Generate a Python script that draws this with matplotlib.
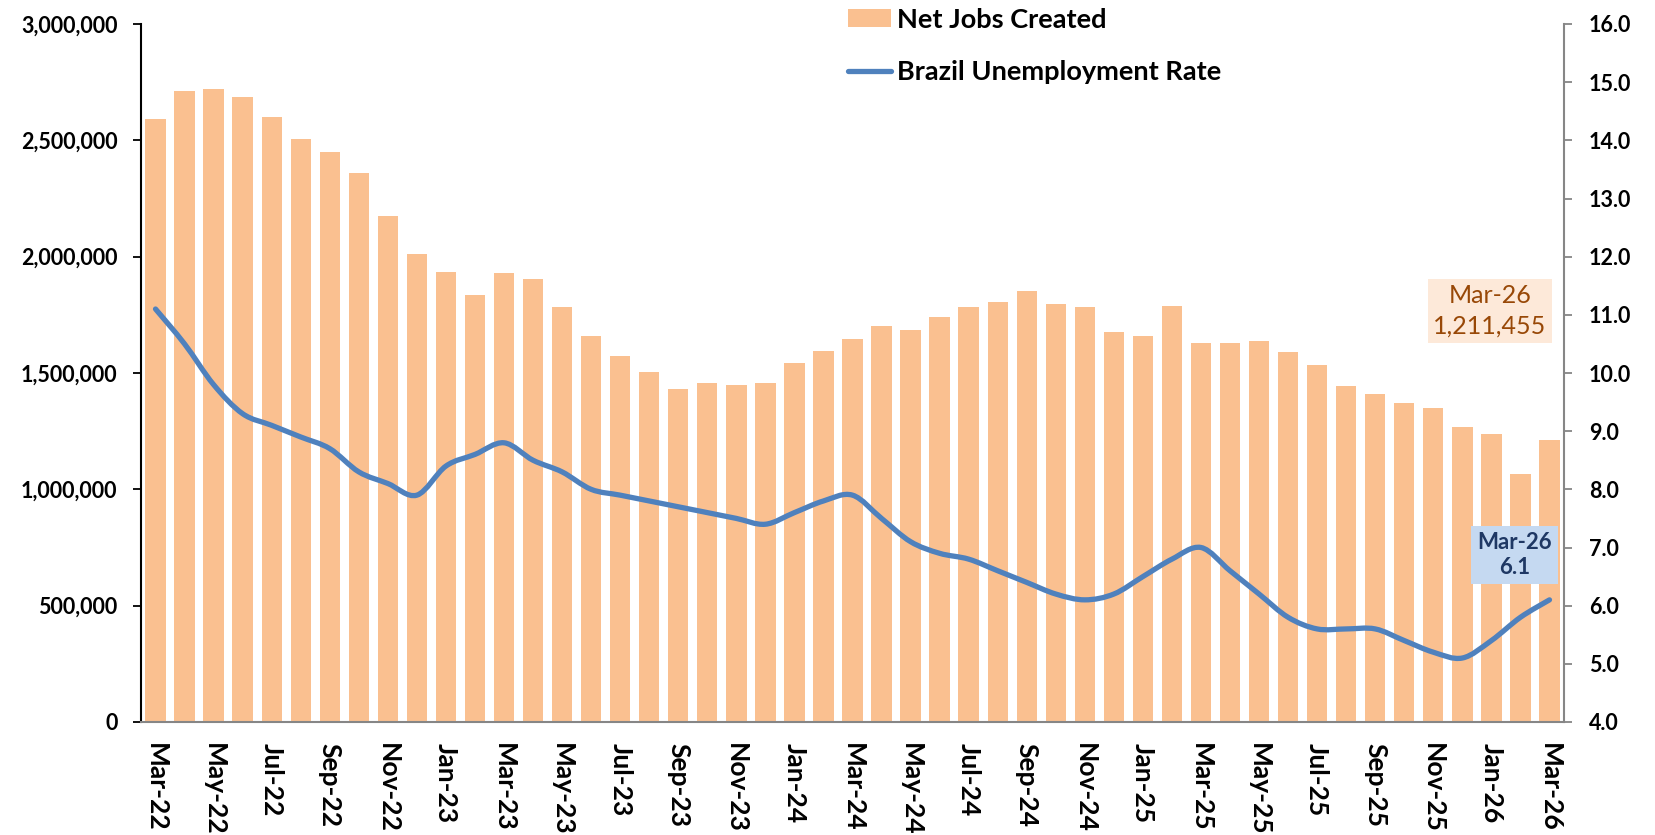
import matplotlib
matplotlib.use("Agg")
import matplotlib.pyplot as plt
import numpy as np
import pandas as pd
from matplotlib.path import Path
from matplotlib.patches import PathPatch, Patch
from matplotlib.lines import Line2D
from matplotlib.ticker import FuncFormatter

# ---------------- data ----------------
months = list(pd.date_range("2022-03-01", "2026-03-01", freq="MS").strftime("%b-%y"))

net_jobs = [2592000, 2710000, 2719000, 2687000, 2601000, 2506000, 2452000, 2361000,
            2175000, 2012000, 1935000, 1835000, 1930000, 1903000, 1785000, 1659000,
            1572000, 1505000, 1432000, 1459000, 1450000, 1455000, 1541000, 1595000,
            1645000, 1704000, 1686000, 1740000, 1785000, 1804000, 1853000, 1795000,
            1785000, 1677000, 1659000, 1790000, 1631000, 1627000, 1636000, 1591000,
            1536000, 1446000, 1409000, 1373000, 1350000, 1269000, 1237000, 1065000,
            1211455]

unemployment = [11.1, 10.5, 9.8, 9.3, 9.1, 8.9, 8.7, 8.3, 8.1, 7.9,
                8.4, 8.6, 8.8, 8.5, 8.3, 8.0, 7.9, 7.8, 7.7, 7.6, 7.5, 7.4,
                7.6, 7.8, 7.9, 7.5, 7.1, 6.9, 6.8, 6.6, 6.4, 6.2, 6.1, 6.2,
                6.5, 6.8, 7.0, 6.6, 6.2, 5.8, 5.6, 5.6, 5.6, 5.4, 5.2, 5.1,
                5.4, 5.8, 6.1]

left_ticks = [0, 500000, 1000000, 1500000, 2000000, 2500000, 3000000]
right_ticks = [4.0, 5.0, 6.0, 7.0, 8.0, 9.0, 10.0, 11.0, 12.0, 13.0, 14.0, 15.0, 16.0]

# ---------------- style ----------------
FONT = "Lato"
plt.rcParams["font.family"] = [FONT, "DejaVu Sans"]
BAR_C = "#FAC090"
LINE_C = "#4F81BD"
GRAY = "#868686"

fig = plt.figure(figsize=(16.55, 8.35), dpi=100)
ax = fig.add_axes([141 / 1655, 1 - 722 / 835, (1564 - 141) / 1655, (722 - 24) / 835])
ax2 = ax.twinx()

x = np.arange(len(months))
ax.bar(x, net_jobs, width=0.7, color=BAR_C, zorder=2)
ax.set_xlim(-0.5, len(months) - 0.5)
ax.set_ylim(0, 3000000)
ax.set_yticks(left_ticks)
ax.yaxis.set_major_formatter(FuncFormatter(lambda v, p: f"{int(v):,}"))

# smoothed line (Excel-style Bezier through the data points)
def smooth_path(xs, ys):
    n = len(xs)
    verts = [(xs[0], ys[0])]
    codes = [Path.MOVETO]
    for i in range(n - 1):
        a = i - 1 if i > 0 else i
        d = i + 2 if i + 2 < n else i + 1
        c1 = (xs[i] + (xs[i + 1] - xs[a]) / 6.0, ys[i] + (ys[i + 1] - ys[a]) / 6.0)
        c2 = (xs[i + 1] - (xs[d] - xs[i]) / 6.0, ys[i + 1] - (ys[d] - ys[i]) / 6.0)
        verts += [c1, c2, (xs[i + 1], ys[i + 1])]
        codes += [Path.CURVE4] * 3
    return Path(verts, codes)

patch = PathPatch(smooth_path(x.astype(float), unemployment), fill=False,
                  edgecolor=LINE_C, lw=3.8, capstyle="round", joinstyle="round", zorder=3)
ax2.add_patch(patch)
ax2.set_ylim(4, 16)
ax2.set_yticks(right_ticks)
ax2.yaxis.set_major_formatter(FuncFormatter(lambda v, p: f"{v:.1f}"))

# spines / ticks
for a in (ax, ax2):
    a.spines["top"].set_visible(False)
ax.spines["right"].set_visible(False)
ax.spines["left"].set_color("black")
ax.spines["left"].set_linewidth(1.5)
ax.spines["bottom"].set_color(GRAY)
ax.spines["bottom"].set_linewidth(1.5)
ax2.spines["left"].set_visible(False)
ax2.spines["bottom"].set_visible(False)
ax2.spines["right"].set_color(GRAY)
ax2.spines["right"].set_linewidth(1.5)

ax.tick_params(axis="y", length=6, width=1.3, color="black", pad=11, labelsize=15.5)
ax2.tick_params(axis="y", length=6, width=1.3, color=GRAY, pad=12, labelsize=15.5)
ax.set_xticks(x[::2])
ax.set_xticklabels(months[::2], rotation=270, fontsize=19, fontweight="bold")
ax.tick_params(axis="x", length=0, pad=15)
for lbl in ax.get_yticklabels() + ax2.get_yticklabels():
    lbl.set_fontweight("bold")

# legend
handles = [Patch(facecolor=BAR_C, edgecolor="none"),
           Line2D([0], [0], color=LINE_C, lw=3.8, solid_capstyle="round")]
fig.legend(handles, ["Net Jobs Created", "Brazil Unemployment Rate"],
           loc="upper left", bbox_to_anchor=(848 / 1655, 1 - 7.5 / 835), frameon=False,
           borderpad=0, borderaxespad=0,
           prop={"family": FONT, "weight": "bold", "size": 19.5},
           handlelength=1.6, handleheight=0.65, handletextpad=0.22, labelspacing=1.06)

# annotations
ax2.text(45.95, 4 + (722 - 311) / 698 * 12, "Mar-26\n1,211,455", ha="center", va="center",
         fontsize=18, color="#984807", linespacing=1.4, zorder=5,
         bbox=dict(boxstyle="square,pad=0.22", facecolor="#FDE9D9", edgecolor="none"))
ax2.text(46.8, 4 + (722 - 555) / 698 * 12, "Mar-26\n6.1", ha="center", va="center",
         fontsize=16, fontweight="bold", color="#1F3864", linespacing=1.25, zorder=5,
         bbox=dict(boxstyle="square,pad=0.27", facecolor="#C5D9F1", edgecolor="none"))

fig.savefig("out.png", dpi=100)
